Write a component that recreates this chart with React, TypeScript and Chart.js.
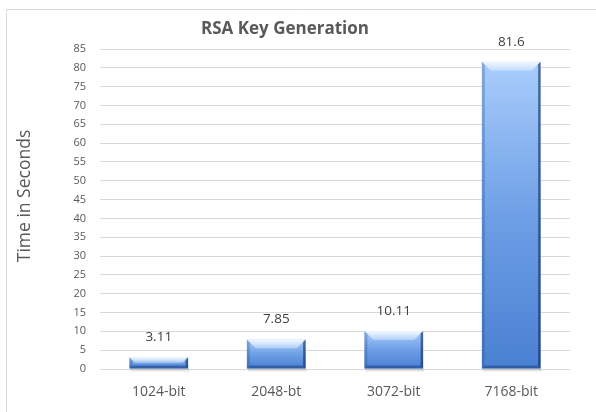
import React, { useEffect, useRef } from "react";
import { Chart, registerables } from "chart.js";

Chart.register(...registerables);

const categories = ["1024-bit", "2048-bt", "3072-bit", "7168-bit"];
const timeSeconds = [3.11, 7.85, 10.11, 81.6];
const valueLabels = ["3.11", "7.85", "10.11", "81.6"];
const chartTitle = "RSA Key Generation";
const yAxisTitle = "Time in Seconds";
const yMax = 85;
const yStep = 5;

const FONT = "'Open Sans', 'Liberation Sans', sans-serif";
const TEXT = "#595959";

const decorPlugin = {
  id: "decor",
  beforeDraw(chart: any) {
    const ctx = chart.ctx;
    ctx.save();
    ctx.fillStyle = "#ffffff";
    ctx.fillRect(0, 0, chart.width, chart.height);
    ctx.strokeStyle = "#d9d9d9";
    ctx.lineWidth = 1;
    ctx.beginPath();
    ctx.moveTo(6.5, chart.height);
    ctx.lineTo(6.5, 9.5);
    ctx.lineTo(chart.width, 9.5);
    ctx.stroke();
    ctx.restore();
  },
  afterDatasetsDraw(chart: any) {
    const ctx = chart.ctx;
    const meta = chart.getDatasetMeta(0);
    const area = chart.chartArea;
    ctx.save();
    meta.data.forEach((bar: any, i: number) => {
      const p = bar.getProps(["x", "y", "base", "width"], true);
      const L = p.x - p.width / 2;
      const R = p.x + p.width / 2;
      const T = p.y;
      const B = p.base;
      const h = B - T;
      // shadow
      ctx.fillStyle = "rgba(0,0,0,0.10)";
      ctx.fillRect(L + 1, B, R - L, 3);
      const g = ctx.createLinearGradient(0, T, 0, B);
      g.addColorStop(0, "#aacdfc");
      g.addColorStop(0.5, "#6e9fe6");
      g.addColorStop(1, "#4a80d2");
      ctx.fillStyle = g;
      ctx.fillRect(L, T, R - L, h);
      const b = Math.min(9, h / 2);
      // top bevel
      const tg = ctx.createLinearGradient(0, T, 0, T + b);
      tg.addColorStop(0, "rgba(255,255,255,0.85)");
      tg.addColorStop(1, "rgba(255,255,255,0.3)");
      ctx.fillStyle = tg;
      ctx.beginPath();
      ctx.moveTo(L, T);
      ctx.lineTo(R, T);
      ctx.lineTo(R - b, T + b);
      ctx.lineTo(L + b, T + b);
      ctx.closePath();
      ctx.fill();
      // left bevel
      ctx.fillStyle = "rgba(40,80,150,0.30)";
      ctx.beginPath();
      ctx.moveTo(L, T);
      ctx.lineTo(L + 3, T + 3);
      ctx.lineTo(L + 3, B - 3);
      ctx.lineTo(L, B);
      ctx.closePath();
      ctx.fill();
      // right bevel
      ctx.fillStyle = "rgba(15,40,95,0.6)";
      ctx.beginPath();
      ctx.moveTo(R, T);
      ctx.lineTo(R - 2.5, T + 2.5);
      ctx.lineTo(R - 2.5, B - 2.5);
      ctx.lineTo(R, B);
      ctx.closePath();
      ctx.fill();
      // bottom bevel
      ctx.fillStyle = "rgba(20,50,110,0.45)";
      ctx.beginPath();
      ctx.moveTo(L, B);
      ctx.lineTo(L + 3, B - 3);
      ctx.lineTo(R - 3, B - 3);
      ctx.lineTo(R, B);
      ctx.closePath();
      ctx.fill();
      // value label
      ctx.fillStyle = "#404040";
      ctx.font = `13.5px ${FONT}`;
      ctx.textAlign = "center";
      ctx.textBaseline = "middle";
      ctx.fillText(valueLabels[i], p.x, T - 20);
    });
    // title
    ctx.fillStyle = TEXT;
    ctx.font = `bold 17px ${FONT}`;
    ctx.textAlign = "center";
    ctx.textBaseline = "middle";
    ctx.fillText(chartTitle, 285, 29);
    // y axis title
    ctx.font = `17.5px ${FONT}`;
    ctx.translate(25, (area.top + area.bottom) / 2 - 13);
    ctx.rotate(-Math.PI / 2);
    ctx.fillText(yAxisTitle, 0, 0);
    ctx.restore();
  },
};

export default function App() {
  const ref = useRef<HTMLCanvasElement>(null);
  useEffect(() => {
    if (!ref.current) return;
    const chart = new Chart(ref.current, {
      type: "bar",
      data: {
        labels: categories,
        datasets: [
          {
            data: timeSeconds,
            backgroundColor: "rgba(0,0,0,0)",
            borderWidth: 0,
            barPercentage: 0.5,
            categoryPercentage: 1,
          },
        ],
      },
      options: {
        animation: false,
        responsive: false,
        devicePixelRatio: 1,
        layout: { padding: { left: 0, top: 49, right: 26, bottom: 0 } },
        plugins: { legend: { display: false }, tooltip: { enabled: false }, title: { display: false } },
        scales: {
          x: {
            grid: { display: false },
            border: { display: false },
            ticks: { color: TEXT, font: { family: FONT, size: 14 }, padding: 7 },
            afterFit: (s: any) => {
              s.height = 43;
            },
          },
          y: {
            min: 0,
            max: yMax,
            ticks: { stepSize: yStep, color: TEXT, font: { family: FONT, size: 11 }, padding: 14 },
            grid: { color: "#d9d9d9", lineWidth: 1, drawTicks: false },
            border: { display: false },
            afterFit: (s: any) => {
              s.width = 100;
            },
          },
        },
      },
      plugins: [decorPlugin],
    });
    return () => chart.destroy();
  }, []);
  return (
    <div style={{ position: "fixed", left: 0, top: 0, width: 596, height: 412 }}>
      <canvas ref={ref} width={596} height={412} style={{ width: 596, height: 412 }} />
    </div>
  );
}
